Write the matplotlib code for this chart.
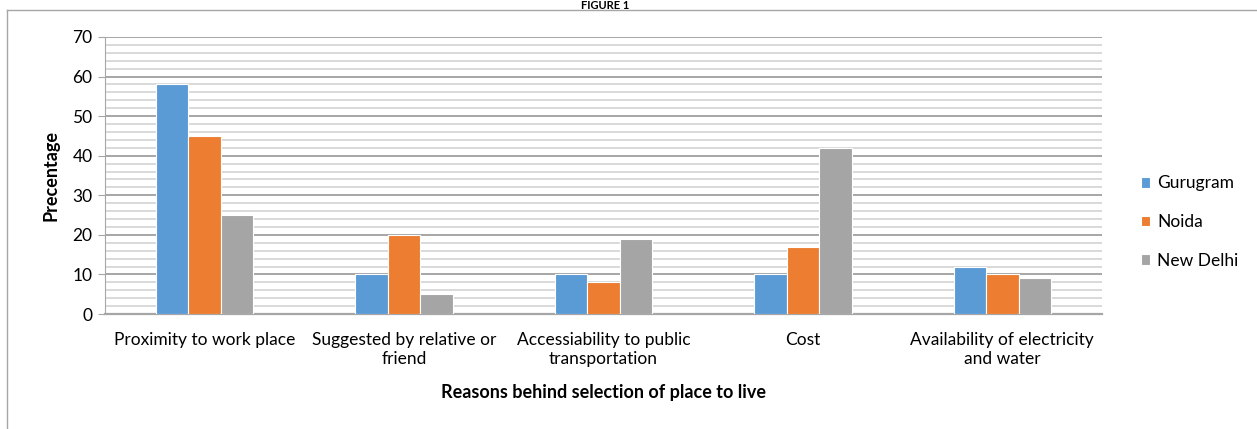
import matplotlib
matplotlib.use("Agg")
import matplotlib.pyplot as plt
import numpy as np
from matplotlib.lines import Line2D

plt.rcParams["font.family"] = ["Lato", "DejaVu Sans"]

categories = ["Proximity to work place", "Suggested by relative or\nfriend",
              "Accessiability to public\ntransportation", "Cost",
              "Availability of electricity\nand water"]
series_names = ["Gurugram", "Noida", "New Delhi"]
gurugram = [58, 10, 10, 10, 12]
noida = [45, 20, 8, 17, 10]
new_delhi = [25, 5, 19, 42, 9]
colors = ["#5b9bd5", "#ed7d31", "#a5a5a5"]

fig = plt.figure(figsize=(12.57, 4.29), dpi=100)
ax = fig.add_axes([0.0835, 0.268, 0.7932, 0.6458])

x = np.arange(len(categories))
w = 0.163
for i, (vals, name, c) in enumerate(zip([gurugram, noida, new_delhi], series_names, colors)):
    ax.bar(x + (i - 1) * w, vals, width=w, color=c, edgecolor="white",
           linewidth=0.8, label=name, zorder=3)

ax.set_xlim(-0.5, len(categories) - 0.5)
ax.set_ylim(0, 70)
ax.set_yticks(np.arange(0, 71, 10))
ax.set_yticks(np.arange(0, 71, 2), minor=True)
ax.grid(True, which="major", axis="y", color="#a6a6a6", linewidth=1.4, zorder=0)
ax.grid(True, which="minor", axis="y", color="#d9d9d9", linewidth=1.4, zorder=0)
ax.set_xticks(x)
ax.set_xticklabels(categories, fontsize=12.5)
ax.tick_params(axis="x", length=0, pad=13)
ax.tick_params(axis="y", which="major", length=5, color="#a6a6a6", labelsize=12.5, pad=4)
ax.tick_params(axis="y", which="minor", length=0)

for s in ["top", "right"]:
    ax.spines[s].set_visible(False)
ax.spines["left"].set_color("#a6a6a6")
ax.spines["bottom"].set_color("#a6a6a6")
ax.spines["bottom"].set_linewidth(1.6)

ax.set_xlabel("Reasons behind selection of place to live", fontsize=13,
              fontweight="bold", labelpad=12.5)
ax.set_ylabel("Precentage", fontsize=13, fontweight="bold", labelpad=9)

leg = ax.legend(loc="center left", bbox_to_anchor=(1.039, 0.332), frameon=False,
                fontsize=12.5, handlelength=0.55, handleheight=0.55,
                handletextpad=0.4, labelspacing=1.3, borderpad=0,
                borderaxespad=0)

# chart border (only left/top edges visible in the crop) and the title above it
fig.add_artist(Line2D([7 / 1257, 7 / 1257], [0, 1 - 10 / 429], color="#a6a6a6", lw=1))
fig.add_artist(Line2D([7 / 1257, 1], [1 - 10 / 429, 1 - 10 / 429], color="#a6a6a6", lw=1))
fig.text(605 / 1257, 0.999, "FIGURE 1", ha="center", va="top",
         fontsize=8, fontweight="bold")

fig.savefig("out.png")
